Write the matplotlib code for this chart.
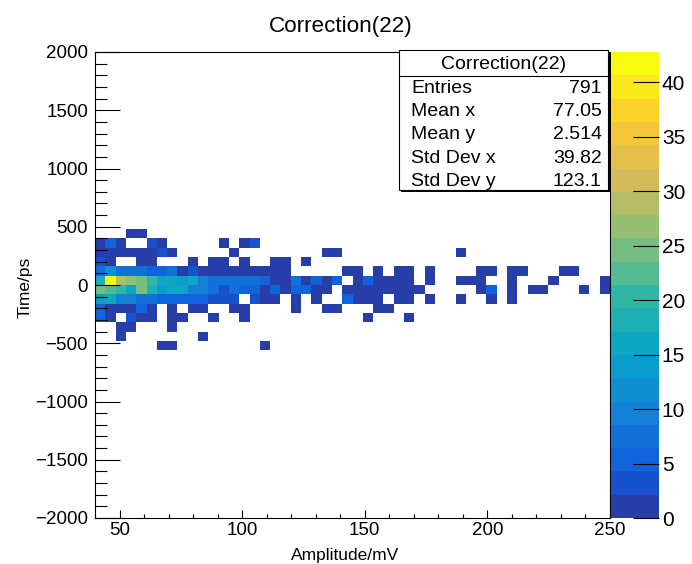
import numpy as np
import matplotlib.pyplot as plt
from matplotlib.colors import LinearSegmentedColormap, ListedColormap, BoundaryNorm
from matplotlib.ticker import MultipleLocator
from matplotlib.patches import Rectangle

plt.rcParams['font.family'] = ['Liberation Sans', 'DejaVu Sans']

# Binning of the 2D histogram (ROOT TH2, 50 x 50 bins)
amp_min, amp_max, n_amp = 40, 250, 50
time_min, time_max, n_time = -2000, 2000, 50
z_max = 42.8
n_levels = 20

# Bin contents, one list per time row (name = lower edge in ps),
# amplitude bins from 40 mV to 250 mV
row_400 = [0, 0, 0, 1, 1, 0, 0, 0, 0, 0,
           0, 0, 0, 0, 0, 0, 0, 0, 0, 0,
           0, 0, 0, 0, 0, 0, 0, 0, 0, 0,
           0, 0, 0, 0, 0, 0, 0, 0, 0, 0,
           0, 0, 0, 0, 0, 0, 0, 0, 0, 0]
row_320 = [2, 5, 1, 0, 0, 3, 1, 0, 0, 0,
           0, 0, 1, 0, 1, 3, 0, 0, 0, 0,
           0, 0, 0, 0, 0, 0, 0, 0, 0, 0,
           0, 0, 0, 0, 0, 0, 0, 0, 0, 0,
           0, 0, 0, 0, 0, 0, 0, 0, 0, 0]
row_240 = [1, 2, 1, 1, 2, 1, 4, 1, 0, 0,
           0, 0, 0, 1, 0, 0, 0, 0, 0, 0,
           0, 0, 1, 1, 0, 0, 0, 0, 0, 0,
           0, 0, 0, 0, 0, 1, 0, 0, 0, 0,
           0, 0, 0, 0, 0, 0, 0, 0, 0, 0]
row_160 = [3, 2, 0, 0, 1, 2, 0, 0, 0, 1,
           0, 1, 2, 0, 1, 0, 0, 1, 1, 0,
           1, 0, 0, 0, 0, 0, 0, 0, 0, 0,
           0, 0, 0, 0, 0, 0, 0, 0, 0, 0,
           0, 0, 0, 0, 0, 0, 0, 0, 0, 0]
row_80 = [7, 11, 8, 7, 7, 6, 5, 7, 2, 3,
          2, 2, 1, 2, 1, 2, 1, 2, 1, 0,
          0, 0, 0, 0, 1, 2, 0, 1, 0, 1,
          1, 0, 1, 0, 0, 0, 0, 1, 1, 0,
          1, 1, 0, 0, 0, 1, 1, 0, 0, 0]
row_0 = [19, 41, 29, 26, 25, 21, 17, 16, 13, 15,
         10, 8, 7, 7, 8, 7, 6, 2, 2, 7,
         2, 6, 2, 6, 0, 2, 5, 2, 2, 1,
         1, 0, 1, 0, 0, 1, 1, 1, 0, 0,
         1, 0, 0, 0, 1, 0, 0, 0, 0, 1]
row_m80 = [25, 22, 21, 15, 24, 18, 13, 16, 17, 10,
           9, 7, 3, 7, 6, 5, 2, 5, 2, 5,
           5, 2, 2, 0, 2, 1, 2, 2, 1, 1,
           1, 1, 0, 0, 0, 0, 0, 1, 5, 0,
           1, 0, 1, 1, 0, 0, 0, 1, 0, 1]
row_m160 = [14, 15, 10, 9, 8, 7, 6, 6, 6, 5,
            5, 4, 3, 3, 0, 4, 2, 2, 0, 1,
            0, 1, 0, 0, 5, 2, 1, 2, 0, 1,
            1, 0, 1, 0, 0, 1, 0, 0, 1, 0,
            1, 0, 0, 0, 0, 0, 0, 0, 0, 0]
row_m240 = [5, 2, 1, 2, 5, 2, 0, 2, 0, 1,
            2, 0, 0, 1, 2, 0, 0, 0, 0, 1,
            0, 0, 1, 1, 0, 0, 0, 1, 1, 0,
            0, 0, 0, 0, 0, 0, 0, 0, 0, 0,
            0, 0, 0, 0, 0, 0, 0, 0, 0, 0]
row_m320 = [5, 1, 0, 3, 1, 1, 0, 1, 1, 0,
            0, 1, 0, 0, 1, 0, 0, 0, 0, 0,
            0, 0, 0, 0, 0, 0, 1, 0, 0, 0,
            1, 0, 0, 0, 0, 0, 0, 0, 0, 0,
            0, 0, 0, 0, 0, 0, 0, 0, 0, 0]
row_m400 = [0, 0, 1, 1, 0, 0, 0, 1, 0, 0,
            0, 0, 0, 0, 0, 0, 0, 0, 0, 0,
            0, 0, 0, 0, 0, 0, 0, 0, 0, 0,
            0, 0, 0, 0, 0, 0, 0, 0, 0, 0,
            0, 0, 0, 0, 0, 0, 0, 0, 0, 0]
row_m480 = [0, 0, 1, 0, 0, 0, 0, 0, 0, 0,
            1, 0, 0, 0, 0, 0, 0, 0, 0, 0,
            0, 0, 0, 0, 0, 0, 0, 0, 0, 0,
            0, 0, 0, 0, 0, 0, 0, 0, 0, 0,
            0, 0, 0, 0, 0, 0, 0, 0, 0, 0]
row_m560 = [0, 0, 0, 0, 0, 0, 1, 1, 0, 0,
            0, 0, 0, 0, 0, 0, 1, 0, 0, 0,
            0, 0, 0, 0, 0, 0, 0, 0, 0, 0,
            0, 0, 0, 0, 0, 0, 0, 0, 0, 0,
            0, 0, 0, 0, 0, 0, 0, 0, 0, 0]

row_edges = [-560, -480, -400, -320, -240, -160, -80, 0, 80, 160, 240, 320, 400]
rows = [row_m560, row_m480, row_m400, row_m320, row_m240, row_m160, row_m80,
        row_0, row_80, row_160, row_240, row_320, row_400]

stat_names = ['Entries', 'Mean x', 'Mean y', 'Std Dev x', 'Std Dev y']
stat_values = ['791', '77.05', '2.514', '39.82', '123.1']

# ROOT kBird palette
stops = [0.0, 0.125, 0.25, 0.375, 0.5, 0.625, 0.75, 0.875, 1.0]
red = [0.2082, 0.0592, 0.0780, 0.0232, 0.1802, 0.5301, 0.8186, 0.9956, 0.9764]
green = [0.1664, 0.3599, 0.5041, 0.6419, 0.7178, 0.7492, 0.7328, 0.7862, 0.9832]
blue = [0.5293, 0.8684, 0.8385, 0.7914, 0.6425, 0.4662, 0.3499, 0.1968, 0.0539]
bird = LinearSegmentedColormap.from_list('bird', list(zip(stops, zip(red, green, blue))))
band_colors = [bird(int((k + 0.99) * 255 / n_levels) / 254) for k in range(n_levels)]
cmap = ListedColormap(band_colors)
norm = BoundaryNorm(np.linspace(0, z_max, n_levels + 1), n_levels)

# Fill the histogram grid
x_edges = np.linspace(amp_min, amp_max, n_amp + 1)
y_edges = np.linspace(time_min, time_max, n_time + 1)
bin_h = (time_max - time_min) / n_time
grid = np.zeros((n_time, n_amp))
for edge, row in zip(row_edges, rows):
    grid[int((edge - time_min) / bin_h)] = row
grid = np.ma.masked_equal(grid, 0)

W, H = 692, 564
fig = plt.figure(figsize=(W / 100, H / 100), dpi=100)

def fx(px):
    return px / W

def fy(py):
    return 1 - py / H

ax = fig.add_axes([fx(95), fy(518), fx(610) - fx(95), fy(52) - fy(518)])
mesh = ax.pcolormesh(x_edges, y_edges, grid, cmap=cmap, norm=norm)
ax.set_xlim(amp_min, amp_max)
ax.set_ylim(time_min, time_max)
ax.xaxis.set_major_locator(MultipleLocator(50))
ax.xaxis.set_minor_locator(MultipleLocator(10))
ax.yaxis.set_major_locator(MultipleLocator(500))
ax.yaxis.set_minor_locator(MultipleLocator(100))
ax.tick_params(axis='both', which='both', direction='in', top=False, right=False,
               labelsize=13.5, width=0.8)
ax.tick_params(axis='x', which='major', length=5.8, pad=3)
ax.tick_params(axis='x', which='minor', length=2.9)
ax.tick_params(axis='y', which='major', length=18, pad=5)
ax.tick_params(axis='y', which='minor', length=8.6)
for s in ax.spines.values():
    s.set_linewidth(0.8)

# Palette on the right
cax = fig.add_axes([fx(611), fy(518), fx(659) - fx(611), fy(52) - fy(518)])
cbar = fig.colorbar(mesh, cax=cax, ticks=range(0, 41, 5))
cbar.outline.set_visible(False)
cax.tick_params(direction='in', length=18.7, width=0.8, labelsize=15, pad=2)
cax.minorticks_off()

# Titles
fig.text(fx(341), fy(32), 'Correction(22)', fontsize=16.2, ha='center', va='baseline')
fig.text(fx(345), fy(560), 'Amplitude/mV', fontsize=12.5, ha='center', va='baseline')
fig.text(fx(25), fy(287), 'Time/ps', fontsize=12.5, ha='center', va='center', rotation=90)

# Stats box
sx0, sx1, sy0, sy1 = 399, 608, 50, 190
fig.patches.append(Rectangle((fx(sx0 + 2), fy(sy1 + 2)), fx(sx1) - fx(sx0), fy(sy0) - fy(sy1),
                             transform=fig.transFigure, facecolor='black', edgecolor='none'))
fig.patches.append(Rectangle((fx(sx0), fy(sy1)), fx(sx1) - fx(sx0), fy(sy0) - fy(sy1),
                             transform=fig.transFigure, facecolor='white', edgecolor='black',
                             linewidth=0.8))
fig.add_artist(plt.Line2D([fx(sx0), fx(sx1)], [fy(75.7), fy(75.7)],
                          transform=fig.transFigure, color='black', linewidth=0.8))
fig.text(fx((sx0 + sx1) / 2), fy(68.7), 'Correction(22)', fontsize=14, ha='center', va='baseline')
for k, (name, val) in enumerate(zip(stat_names, stat_values)):
    base = 92.8 + k * 23.3
    fig.text(fx(411), fy(base), name, fontsize=14, ha='left', va='baseline')
    fig.text(fx(601.5), fy(base), val, fontsize=14, ha='right', va='baseline')

fig.savefig('out.png', dpi=100)
